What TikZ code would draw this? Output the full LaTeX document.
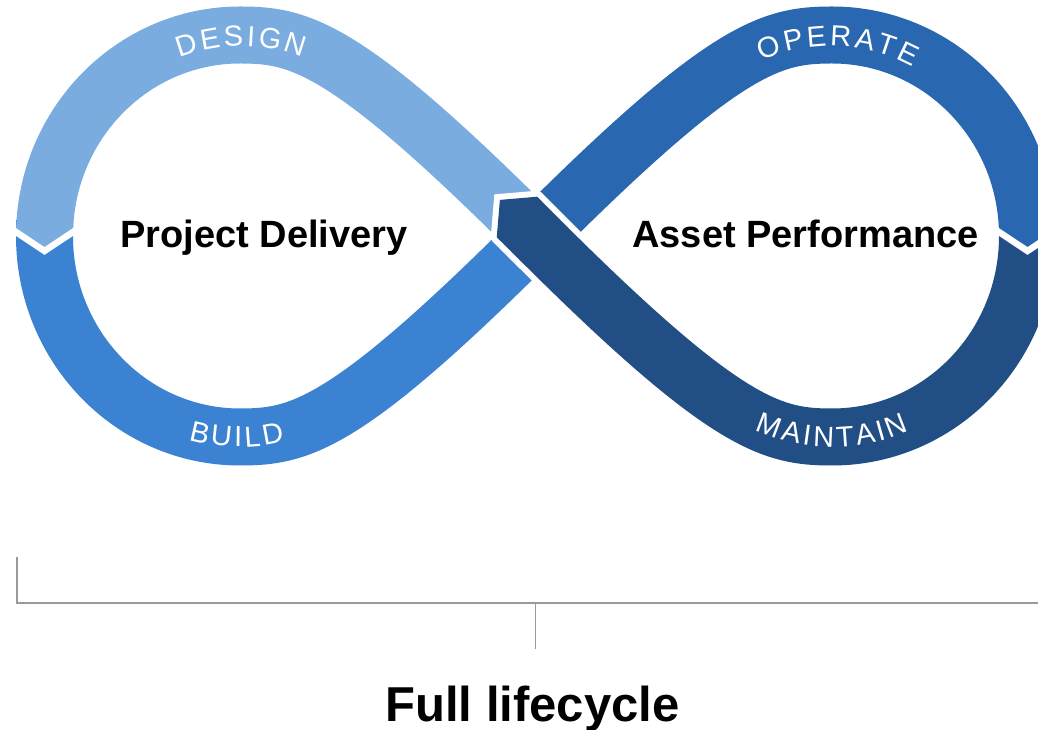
\documentclass[tikz,border=0pt]{standalone}
\usepackage{fontspec}
\setmainfont{Liberation Sans}
\usepackage{tikz}

\definecolor{designblue}{HTML}{7BACE0}
\definecolor{buildblue}{HTML}{3B82D2}
\definecolor{operateblue}{HTML}{2967B0}
\definecolor{maintainblue}{HTML}{204E85}
\definecolor{bracketgray}{HTML}{9A9A9A}

\begin{document}
\begin{tikzpicture}[x=1pt, y=1pt,
  band/.style={line width=57pt, line cap=butt, line join=round},
  lbl/.style={text=white, anchor=base, inner sep=0pt, font=\fontsize{29}{29}\selectfont},
  loopname/.style={anchor=base, inner sep=0pt, font=\fontsize{38}{38}\selectfont\bfseries},
  title/.style={anchor=base, inner sep=0pt, font=\fontsize{49}{49}\selectfont\bfseries}]
\useasboundingbox (0,0) rectangle (1038,730);
% Loop points
\coordinate (C) at (536,494);
\coordinate (Q) at (516.9,513.1);
\coordinate (T1) at (240,695);
\coordinate (L) at (44.5,494);
\coordinate (B1) at (240,293);
\coordinate (T2) at (832,695);
\coordinate (R) at (1027.5,494);
\coordinate (B2) at (832,293);

% Build
\draw[band, buildblue] (44.5,510) -- (L) .. controls (44.5,383) and (132,293) .. (B1)
  .. controls (300,293) and (346,304) .. (C);
% Design
\begin{scope}
\clip (-50,800) -- (700,800) -- (700,400) -- (110,400) -- (110,498) -- (73,498)
  -- (44.5,479) -- (16,498) -- (-50,498) -- cycle;
\draw[band, designblue] (C) .. controls (346,684) and (300,695) .. (T1)
  .. controls (132,695) and (44.5,605) .. (L) -- (44.5,460);
\end{scope}
% Operate
\begin{scope}
\clip (400,800) -- (1100,800) -- (1100,498) -- (1056,498) -- (1027.5,479)
  -- (999,498) -- (960,498) -- (960,400) -- (400,400) -- cycle;
\draw[band, operateblue] (C) .. controls (726,684) and (772,695) .. (T2)
  .. controls (940,695) and (1027.5,605) .. (R) -- (1027.5,460);
\end{scope}
% Maintain, over the crossing
\begin{scope}
\clip (400,580) -- (960,580) -- (960,498) -- (999,498) -- (1027.5,479)
  -- (1056,498) -- (1100,498) -- (1100,200) -- (400,200) -- cycle;
\draw[white, line width=12pt, line join=miter, miter limit=1.5, line cap=round]
  (537.05,533.25) -- (499.9,530.1) -- (496.75,492.95);
\draw[band, maintainblue, preaction={draw, white, line width=69pt}]
  (1027.5,510) -- (R) .. controls (1027.5,383) and (940,293) .. (B2)
  .. controls (772,293) and (726,304) .. (C) -- (Q);
\fill[maintainblue] (541.3,529) -- (537.05,533.25) -- (499.9,530.1)
  -- (496.75,492.95) -- (501,488.7) -- cycle;
\end{scope}
% Arrow cuts
\draw[white, line width=6.5pt, line join=miter] (8,503.3) -- (44.5,479) -- (81,503.3);
\draw[white, line width=6.5pt, line join=miter] (991,503.3) -- (1027.5,479) -- (1064,503.3);

% Band labels
\coordinate (dtop) at (241,516);
\coordinate (otop) at (831,516);
\coordinate (bbot) at (240,472);
\coordinate (mbot) at (832,472);
\foreach \ch/\a [count=\i] in {D/107.95, E/100.05, S/92.44, I/86.74, G/80.49, N/72.05}
  \node[lbl, rotate=\a-90] (des\i) at ([shift={(\a:168)}]dtop) {\ch};
\foreach \ch/\a [count=\i] in {O/110.47, P/102.30, E/94.68, R/86.79, A/78.90, T/71.55, E/64.21}
  \node[lbl, rotate=\a-90] (ope\i) at ([shift={(\a:168)}]otop) {\ch};
\foreach \ch/\a [count=\i] in {B/257.11, U/264.12, I/269.43, L/274.00, D/280.53}
  \node[lbl, rotate=\a-270] (bui\i) at ([shift={(\a:189)}]bbot) {\ch};
\foreach \ch/\a [count=\i] in {M/249.48, A/256.98, I/262.04, N/267.35, T/274.12, A/280.64, I/285.71, N/291.01}
  \node[lbl, rotate=\a-270] (mai\i) at ([shift={(\a:189)}]mbot) {\ch};

% Loop names
\node[loopname] (pd) at (264,482) {Project Delivery};
\node[loopname] (ap) at (805.5,482) {Asset Performance};

% Bracket
\coordinate (brl) at (17,173);
\coordinate (brc) at (535.5,127);
\coordinate (brr) at (1038,127);
\coordinate (brt) at (535.5,81);
\draw[bracketgray, line width=1.2pt] (brl) -- (17,127) -- (brr);
\draw[bracketgray, line width=1.2pt] (brc) -- (brt);
\node[title] (full) at (532.5,8) {Full lifecycle};
\end{tikzpicture}
\end{document}
